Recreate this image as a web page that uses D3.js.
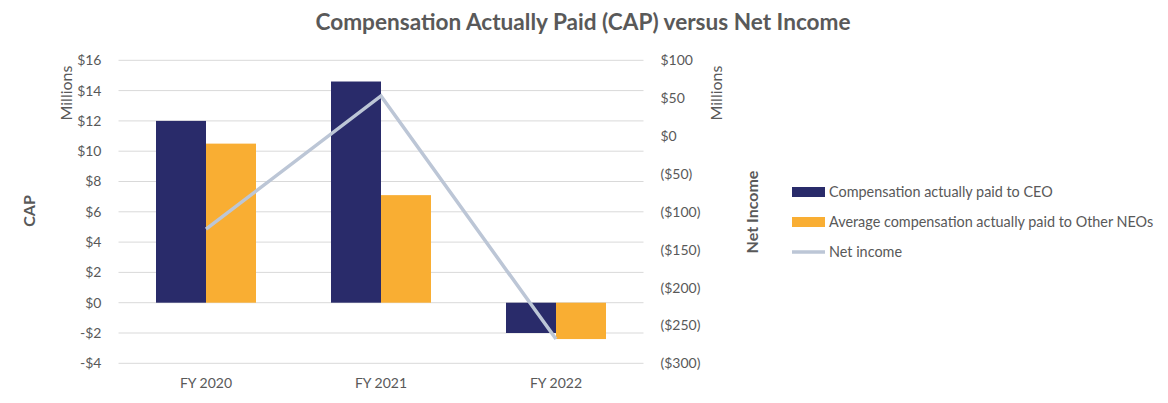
<!DOCTYPE html>
<html>
<head>
<meta charset="utf-8">
<script src="https://cdn.jsdelivr.net/npm/d3@7"></script>
<style>
  body { margin: 0; background: #fff; }
  svg { font-family: Lato, "Open Sans", sans-serif; }
</style>
</head>
<body>
<svg width="1168" height="403"></svg>
<script>
var years = ['FY 2020', 'FY 2021', 'FY 2022'];
var ceoCap = [12.0, 14.6, -2.0];
var neoCap = [10.5, 7.1, -2.4];
var netIncome = [-123, 53, -268];
var leftTicks = [-4, -2, 0, 2, 4, 6, 8, 10, 12, 14, 16];
var rightTicks = [-300, -250, -200, -150, -100, -50, 0, 50, 100];
var seriesNames = ['Compensation actually paid to CEO', 'Average compensation actually paid to Other NEOs', 'Net income'];

var svg = d3.select('svg');
var textColor = '#595959';
var colors = { ceo: '#292b6a', neo: '#f9ae33', line: '#bcc6d6' };

var plotLeft = 118.5, plotRight = 643.5, plotTop = 60.3, plotBottom = 363.3;

var x = d3.scaleBand()
    .domain(years)
    .range([plotLeft, plotRight])
    .paddingInner(75 / 175)
    .paddingOuter(37.5 / 175)
;
var xSub = d3.scaleBand()
    .domain(['ceo', 'neo'])
    .range([0, x.bandwidth()])
;
var yL = d3.scaleLinear().domain([-4, 16]).range([plotBottom, plotTop]);
var yR = d3.scaleLinear().domain([-300, 100]).range([plotBottom, plotTop]);

// gridlines
svg.append('g')
    .selectAll('line')
    .data(leftTicks)
    .enter()
    .append('line')
        .attr('x1', plotLeft)
        .attr('x2', plotRight)
        .attr('y1', function (d) { return yL(d); })
        .attr('y2', function (d) { return yL(d); })
        .attr('stroke', '#d9d9d9')
        .attr('stroke-width', 1)
;

// left axis
var leftAxis = svg.append('g')
    .attr('transform', 'translate(' + (plotLeft - 14) + ',0)')
    .call(d3.axisLeft(yL).tickValues(leftTicks).tickSize(0).tickFormat(function (d) {
        return (d < 0 ? '-$' : '$') + Math.abs(d);
    }))
;
leftAxis.select('.domain').remove();
leftAxis.selectAll('text').attr('fill', textColor).style('font-size', '14px').style('font-family', 'Lato, sans-serif');

// right axis
var rightAxis = svg.append('g')
    .attr('transform', 'translate(' + (plotRight + 14) + ',0)')
    .call(d3.axisRight(yR).tickValues(rightTicks).tickSize(0).tickFormat(function (d) {
        return d < 0 ? '($' + Math.abs(d) + ')' : '$' + d;
    }))
;
rightAxis.select('.domain').remove();
rightAxis.selectAll('text').attr('fill', textColor).style('font-size', '14px').style('font-family', 'Lato, sans-serif');

// x labels
svg.append('g')
    .selectAll('text')
    .data(years)
    .enter()
    .append('text')
        .attr('x', function (d) { return x(d) + x.bandwidth() / 2; })
        .attr('y', 388)
        .attr('text-anchor', 'middle')
        .attr('fill', textColor)
        .style('font-size', '14px')
        .text(function (d) { return d; })
;

// bars
var rows = years.map(function (y, i) {
    return { year: y, ceo: ceoCap[i], neo: neoCap[i] };
});
var group = svg.append('g')
    .selectAll('g')
    .data(rows)
    .enter()
    .append('g')
        .attr('transform', function (d) { return 'translate(' + x(d.year) + ',0)'; })
;
group.selectAll('rect')
    .data(function (d) { return [{ k: 'ceo', v: d.ceo }, { k: 'neo', v: d.neo }]; })
    .enter()
    .append('rect')
        .attr('x', function (d) { return xSub(d.k); })
        .attr('width', xSub.bandwidth())
        .attr('y', function (d) { return yL(Math.max(0, d.v)); })
        .attr('height', function (d) { return Math.abs(yL(d.v) - yL(0)); })
        .attr('fill', function (d) { return colors[d.k]; })
;

// net income line
var line = d3.line()
    .x(function (d, i) { return x(years[i]) + x.bandwidth() / 2; })
    .y(function (d) { return yR(d); })
;
svg.append('path')
    .datum(netIncome)
    .attr('d', line)
    .attr('fill', 'none')
    .attr('stroke', colors.line)
    .attr('stroke-width', 3.5)
;

// title
svg.append('text')
    .attr('x', 583)
    .attr('y', 30)
    .attr('text-anchor', 'middle')
    .attr('fill', textColor)
    .style('font-size', '22.6px')
    .style('font-weight', 'bold')
    .text('Compensation Actually Paid (CAP) versus Net Income')
;

// axis titles
function vText(tx, ty, txt, bold) {
    svg.append('text')
        .attr('transform', 'translate(' + tx + ',' + ty + ') rotate(-90)')
        .attr('text-anchor', 'middle')
        .attr('fill', textColor)
        .style('font-size', '16px')
        .style('font-weight', bold ? 'bold' : 'normal')
        .text(txt);
}
vText(72, 93, 'Millions', false);
vText(722, 93, 'Millions', false);
vText(35, 211, 'CAP', true);
vText(758, 212, 'Net Income', true);

// legend
var legend = svg.append('g')
    .selectAll('g')
    .data(seriesNames)
    .enter()
    .append('g')
        .attr('transform', function (d, i) { return 'translate(792,' + (192 + i * 30) + ')'; })
;
legend.append('rect')
    .attr('x', 0)
    .attr('width', 33)
    .attr('y', function (d, i) { return i < 2 ? -5 : -1.75; })
    .attr('height', function (d, i) { return i < 2 ? 10 : 3.5; })
    .attr('fill', function (d, i) { return [colors.ceo, colors.neo, colors.line][i]; })
;
legend.append('text')
    .attr('x', 37)
    .attr('y', 5)
    .attr('fill', textColor)
    .style('font-size', '14.4px')
    .text(function (d) { return d; })
;
</script>
</body>
</html>
